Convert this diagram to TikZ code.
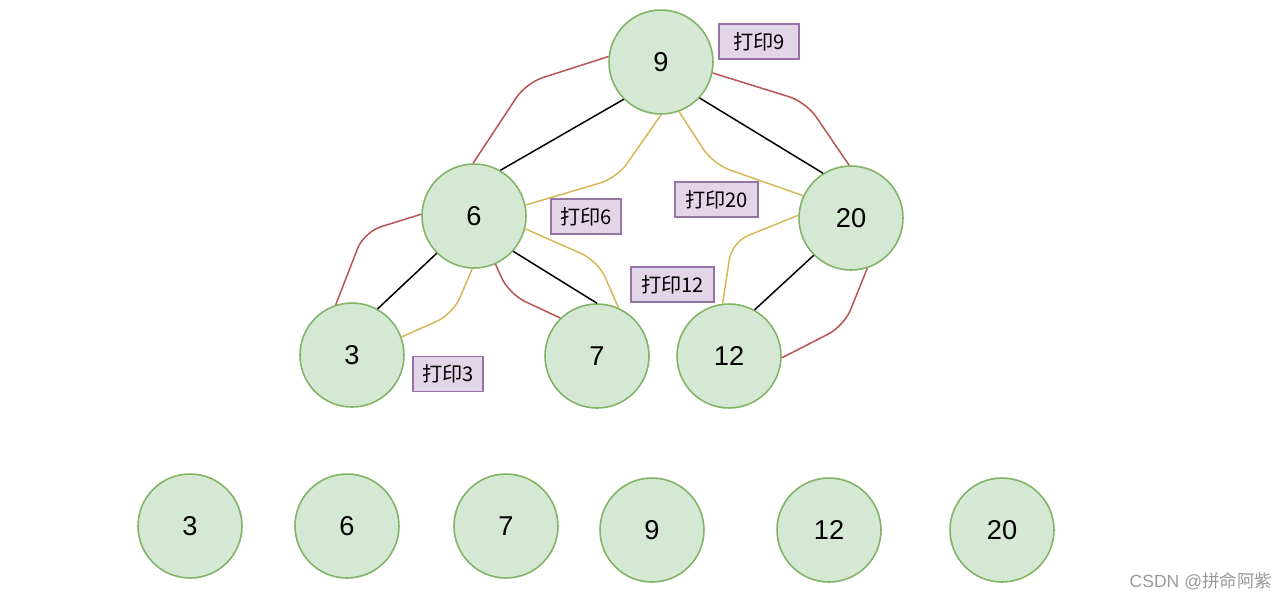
\documentclass[tikz,border=0pt]{standalone}
\usepackage{fontspec}
\setmainfont{Liberation Sans}
\newfontfamily\cjk{Noto Sans CJK SC}
\usetikzlibrary{positioning}

\begin{document}
\begin{tikzpicture}[
        x=0.02cm, y=-0.02cm,
    nd/.style={circle, draw=ndx, fill=ndfill, line width=0.9pt, minimum size=2.08cm, inner sep=0pt, font=\fontsize{15.5}{18}\selectfont},
    tag/.style={draw=tgx, fill=tgfill, line width=0.9pt, minimum height=0.7cm, inner sep=0pt, font=\cjk\fontsize{11.5}{13}\selectfont},
    tree/.style={line width=0.85pt, black},
    pass/.style={line width=0.85pt, rounded corners=0.35cm}
]
\definecolor{ndx}{HTML}{82B366}
\definecolor{ndfill}{HTML}{D5E8D4}
\definecolor{tgx}{HTML}{9673A6}
\definecolor{tgfill}{HTML}{E1D5E7}
    \definecolor{rdx}{HTML}{B85450}
    \definecolor{ylx}{HTML}{D6B656}

    \useasboundingbox (0,0) rectangle (1285,600);

    \node[nd] (t9) at (661,62) {9};
    \node[nd] (t6) at (474,216) {6};
    \node[nd] (t20) at (851,218) {20};
    \node[nd] (t3) at (352,355) {3};
    \node[nd] (t7) at (597,356) {7};
    \node[nd] (t12) at (729,356) {12};

    \node[tag, minimum width=1.6cm] (p9) at (759,41.5) {打印9};
    \node[tag, minimum width=1.4cm] (p6) at (586,216.5) {打印6};
    \node[tag, minimum width=1.66cm] (p20) at (716.5,199.5) {打印20};
    \node[tag, minimum width=1.66cm] (p12) at (672.5,284.5) {打印12};
    \node[tag, minimum width=1.4cm] (p3) at (448,374) {打印3};

    \node[nd] (b3) at (190,526) {3};
    \node[nd] (b6) at (347,526) {6};
    \node[nd] (b7) at (506,526) {7};
    \node[nd] (b9) at (652,530) {9};
    \node[nd] (b12) at (829,530) {12};
    \node[nd] (b20) at (1002,530) {20};

    \node[text=black!40, font=\fontsize{10}{12}\selectfont] (wm) at (1201,581) {CSDN @{\cjk 拼命阿紫}};

    \draw [tree] (t9.225) -- (t6.60);
    \draw [tree] (t9.317) -- (t20.122);
    \draw [tree] (t6.225) -- (t3.61);
    \draw [tree] (t6.318) -- (t7.90);
    \draw [tree] (t20.225) -- (t12.61);

    \draw [pass, rdx] (t9.174) -- (526,83) -- (t6.91);
    \draw [pass, rdx] (t9.348) -- (806,102) -- (t20.92);
    \draw [pass, rdx] (t6.178) -- (364,232) -- (t3.108);
    \draw [pass, rdx] (t6.294) -- (509,294) -- (t7.134);
    \draw [pass, rdx] (t20.288) -- (844,326) -- (t12.358);

    \draw [pass, ylx] (t9.270) -- (617,178) -- (t6.12);
    \draw [pass, ylx] (t9.290) -- (713,164) -- (t20.155);
    \draw [pass, ylx] (t6.346) -- (598,261) -- (t7.66);
    \draw [pass, ylx] (t6.268) -- (453,314) -- (t3.20);
    \draw [pass, ylx] (t20.177) -- (732,242) -- (t12.97);
  \end{tikzpicture}
\end{document}
